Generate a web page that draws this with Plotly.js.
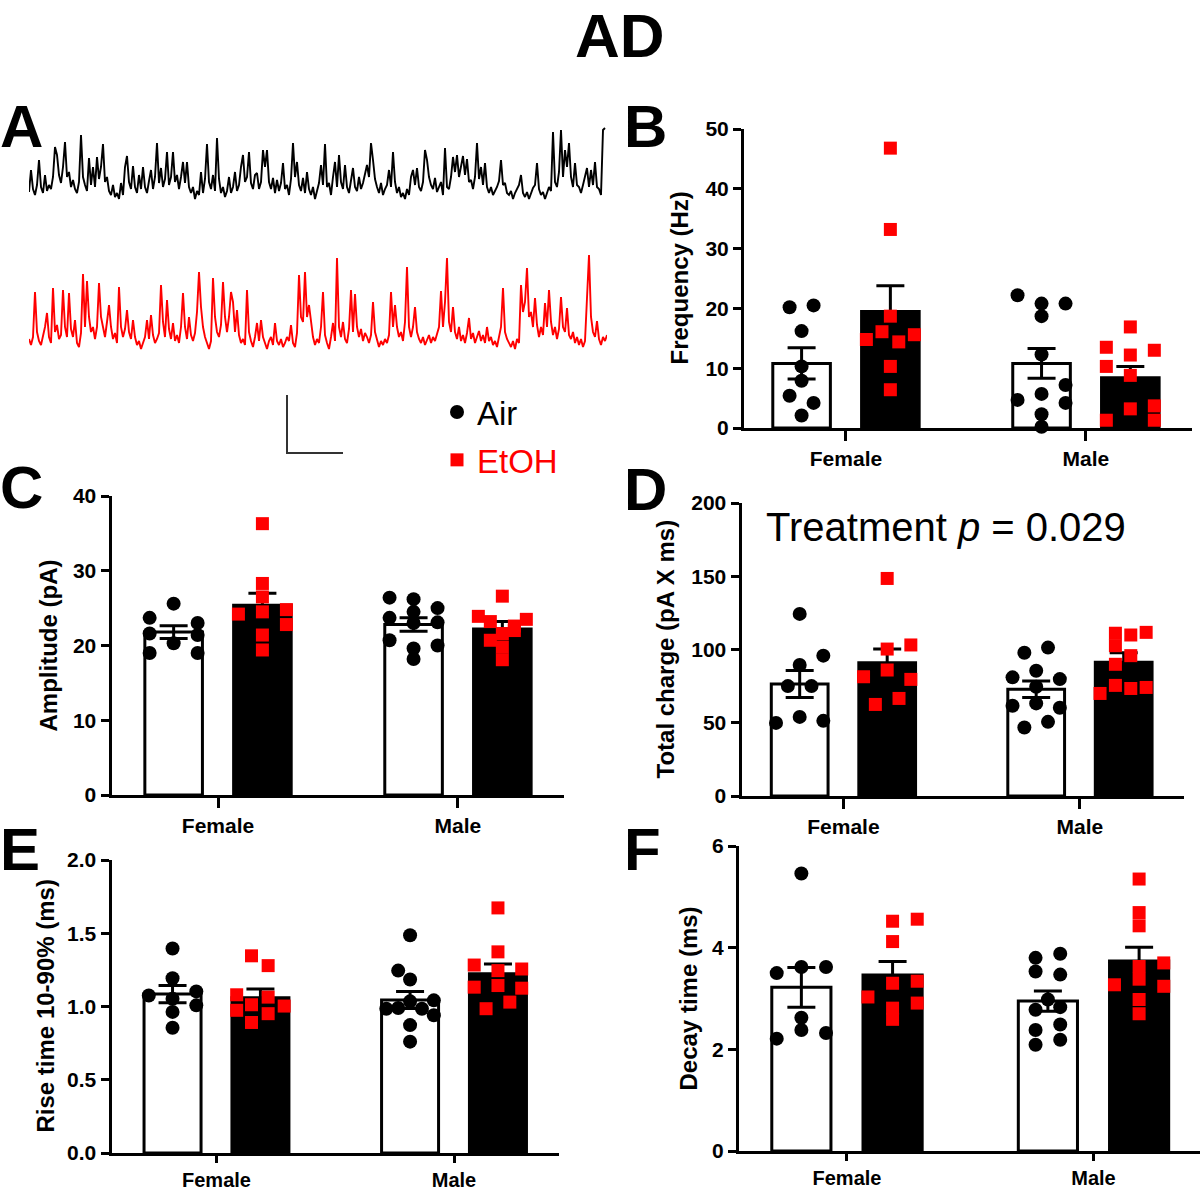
<!DOCTYPE html>
<html>
<head>
<meta charset="utf-8">
<script src="https://cdn.plot.ly/plotly-3.0.1.min.js"></script>
<style>body{margin:0;background:#fff}#chart{width:1200px;height:1192px}</style>
</head>
<body>
<div id="chart"></div>
<script>
// ---------------- DATA ----------------
const categories = ['Female', 'Male'];

// Panel A: example traces (sampled current, baseline = 0, upward deflections)
const airTrace = [
5,27,8,2,12,37,10,4,22,6,
12,8,20,50,42,22,14,30,55,20,
25,10,17,8,4,15,62,20,12,6,
39,12,30,10,40,18,30,53,15,20,
6,2,12,0,4,-2,14,2,30,41,
15,8,31,10,4,22,8,30,10,4,
16,27,8,20,54,14,29,10,18,45,
12,20,45,15,22,8,20,35,14,35,
10,4,10,-2,6,2,25,4,18,53,
15,8,22,6,59,18,4,10,0,6,
20,4,10,25,6,12,30,42,15,20,
45,14,8,22,24,8,15,47,30,47,
15,8,19,4,17,6,14,34,8,12,
2,18,54,20,35,12,6,19,4,25,
8,2,10,-2,6,14,32,12,53,10,
14,2,20,35,10,42,15,8,32,10,
4,18,29,10,6,20,8,14,22,32,
20,54,37,18,10,4,14,2,8,12,
27,10,45,15,4,10,0,4,-2,8,
2,20,27,12,29,10,6,15,47,37,
20,12,8,19,5,10,15,2,49,10,
8,20,40,25,42,20,30,41,22,38,
15,17,8,20,54,18,30,12,34,10,
4,10,2,6,10,16,37,12,14,4,
2,6,-2,4,8,12,22,4,0,5,
-2,4,9,12,34,8,2,5,-2,4,
10,6,65,15,10,25,67,20,47,30,
54,20,10,34,12,10,4,12,20,29,
10,27,12,35,10,8,2,67,69
];
const etohTrace = [
8,2,10,55,15,6,2,12,20,34,
10,4,59,15,22,8,12,57,20,10,
54,18,10,27,4,0,14,73,20,66,
30,15,20,8,20,64,30,20,10,25,
42,20,8,14,4,60,20,10,18,37,
15,8,27,10,2,6,-2,4,10,27,
8,32,12,4,8,14,62,25,10,47,
18,8,24,6,12,4,20,54,20,8,
30,12,6,14,35,75,40,20,10,4,
-2,6,69,30,15,10,22,65,30,15,
30,55,45,15,37,12,4,8,2,57,
15,6,0,10,24,6,27,10,4,-2,
6,10,2,24,6,2,8,0,4,10,
6,22,4,0,14,72,30,25,75,30,
42,25,10,2,8,4,20,55,12,4,
-2,10,24,6,89,20,10,25,8,4,
18,57,15,53,20,10,18,6,14,10,
4,12,45,15,6,0,6,2,8,4,
12,55,20,42,20,10,15,6,25,80,
20,10,20,40,15,8,4,10,2,8,
12,4,10,6,14,20,56,20,45,89,
25,15,40,15,8,20,6,12,4,14,
29,8,14,4,10,16,6,12,4,20,
6,10,2,6,0,12,20,59,15,8,
4,0,6,-2,8,4,62,35,45,79,
30,35,20,49,22,10,20,12,44,20,
57,25,12,20,8,18,50,20,15,39,
12,8,15,4,10,2,8,0,6,49,
92,30,15,10,26,8,2,10,6,12
];
const scaleBarAmp = 58;   // same units as traces
const scaleBarDur = 28;   // samples

// Panel B: Frequency (Hz)
const freqAirMean = [10.8, 10.8];
const freqAirSem  = [2.6, 2.5];
const freqEtohMean = [19.5, 8.4];
const freqEtohSem  = [4.3, 1.9];
const freqAirPts  = [[20.2,20.5,16.2,10.3,7.9,5.4,4.2,2.1],[22.2,20.8,20.8,18.7,12.3,7.2,4.7,5.7,4.2,2.3,0.2]];
const freqAirSlots = [[-1,1,0,0,0,-1,1,0],[-2,0,2,0,0,2,-2,0,2,0,0]];
const freqEtohPts = [[46.8,33.2,18.7,16.1,14.8,14.4,15.6,10.3,6.4],[16.9,13.5,12.2,13.0,10.3,8.8,3.2,3.7,1.3,1.3]];
const freqEtohSlots = [[0,0,0,-0.7,-2,0.7,2,0,0],[0,-2,0,2,-2,0,0,2,-2,2]];

// Panel C: Amplitude (pA)
const ampAirMean = [21.8, 22.8];
const ampAirSem  = [0.85, 0.9];
const ampEtohMean = [25.4, 22.2];
const ampEtohSem  = [1.6, 1.0];
const ampAirPts = [[25.6,23.7,23.0,21.6,21.4,20.3,19.0,19.0],[26.4,26.2,24.5,25.0,23.7,23.1,23.0,20.7,20.0,19.6,18.2]];
const ampAirSlots = [[0,-2,2,-2,2,0,-2,2],[-2,0,0,2,-2,2,0,-2,2,0,0]];
const ampEtohPts = [[36.3,28.3,26.5,24.8,24.2,24.5,22.8,21.4,19.4],[26.6,23.9,23.5,23.2,22.6,21.6,20.7,22.0,19.8,18.1]];
const ampEtohSlots = [[0,0,0,2,-2,0,2,0,0],[0,-2,2,-1,1,0,-1,1,0,0]];

// Panel D: Total charge (pA X ms)
const chargeAirMean = [76.5, 72.9];
const chargeAirSem  = [9.2, 5.6];
const chargeEtohMean = [91.0, 91.3];
const chargeEtohSem  = [9.3, 6.5];
const chargeAirPts = [[124.3,95.8,89.4,75.0,75.0,54.0,49.9,51.3],[101.3,97.8,85.5,81.0,79.8,74.6,61.6,60.2,63.2,46.8,50.6]];
const chargeAirSlots = [[0,2,0,-1,1,0,-2,2],[1,-1,0,-2,2,0,-2,2,0,-1,1]];
const chargeEtohPts = [[148.5,103.1,100.3,86.0,81.4,79.6,66.6,62.5],[111.7,111.1,109.9,102.6,95.8,89.9,75.5,73.4,74.1,70.0]];
const chargeEtohSlots = [[0,2,0,0,-2,2,1,-1],[1.9,-0.7,0.6,-0.7,0.6,-0.7,-0.7,0.6,1.9,-2]];

// Panel E: Rise time 10-90% (ms)
const riseAirMean = [1.085, 1.045];
const riseAirSem  = [0.059, 0.058];
const riseEtohMean = [1.06, 1.224];
const riseEtohSem  = [0.06, 0.066];
const riseAirPts = [[1.396,1.193,1.075,1.103,1.008,0.963,0.855,1.053],[1.486,1.245,1.184,0.985,1.042,1.035,0.99,0.985,0.94,0.873,0.76]];
const riseAirSlots = [[0,0,-2,2,2,0,0,0],[0,-1,0,-2,2,0,-1,1,2,0,0]];
const riseEtohPts = [[1.346,1.279,1.08,1.064,1.012,0.974,1.003,0.951,0.891],[1.673,1.373,1.283,1.256,1.245,1.132,1.143,1.125,1.03,0.985]];
const riseEtohSlots = [[-0.75,0.65,-2,0.65,-0.75,-2,2,0.65,-0.75],[0,0,-2,2,0,-2,0,2,1,-1]];

// Panel F: Decay time (ms)
const decayAirMean = [3.22, 2.95];
const decayAirSem  = [0.39, 0.2];
const decayEtohMean = [3.46, 3.74];
const decayEtohSem  = [0.27, 0.27];
const decayAirPts = [[5.46,3.50,3.62,3.62,2.62,2.38,2.21,2.32],[3.80,3.88,3.53,3.47,2.98,2.78,2.83,2.38,2.49,2.09,2.19]];
const decayAirSlots = [[0,-2,0,2,0,0,-2,2],[-1,1,-1,1,0,-1,1,-1,1,-1,1]];
const decayEtohPts = [[4.52,4.56,4.12,3.30,3.34,3.03,2.91,2.81,2.59],[5.35,4.69,4.43,3.63,3.70,3.27,3.24,3.38,2.98,2.70]];
const decayEtohSlots = [[0,2,0,0,2,-2,2,0,0],[0,0,0,0,2,-2,2,0,0,0]];

// ---------------- LAYOUT / STYLE ----------------
const FONT = 'Arial, "Liberation Sans", Helvetica, sans-serif';
const W = 1200, H = 1192;
const fx = p => p / W;
const fy = p => 1 - p / H;
const BAR_OFFSET = 0.185, BAR_WIDTH = 0.24, SLOT = 0.05;
const RED = '#ff0000';

const panels = [
  {title:'Frequency (Hz)', yMax:50, dtick:10, fmt:'', box:{x:[744,1192], y:[129,428]}, xr:[-0.425,1.442], titleAt:[679,278.5], bottom:false,
   airMean:freqAirMean, airSem:freqAirSem, etohMean:freqEtohMean, etohSem:freqEtohSem,
   airPts:freqAirPts, airSlots:freqAirSlots, etohPts:freqEtohPts, etohSlots:freqEtohSlots},
  {title:'Amplitude (pA)', yMax:40, dtick:10, fmt:'', box:{x:[111.5,564], y:[496,795]}, xr:[-0.444,1.442], titleAt:[48,645.5], bottom:false,
   airMean:ampAirMean, airSem:ampAirSem, etohMean:ampEtohMean, etohSem:ampEtohSem,
   airPts:ampAirPts, airSlots:ampAirSlots, etohPts:ampEtohPts, etohSlots:ampEtohSlots},
  {title:'Total charge (pA X ms)', yMax:200, dtick:50, fmt:'', box:{x:[741.5,1184], y:[503,796]}, xr:[-0.431,1.44], titleAt:[665,649.5], bottom:false,
   airMean:chargeAirMean, airSem:chargeAirSem, etohMean:chargeEtohMean, etohSem:chargeEtohSem,
   airPts:chargeAirPts, airSlots:chargeAirSlots, etohPts:chargeEtohPts, etohSlots:chargeEtohSlots},
  {title:'Rise time 10-90% (ms)', yMax:2, dtick:0.5, fmt:'.1f', box:{x:[111.5,559], y:[860,1153]}, xr:[-0.442,1.442], titleAt:[45,1006.5], bottom:true,
   airMean:riseAirMean, airSem:riseAirSem, etohMean:riseEtohMean, etohSem:riseEtohSem,
   airPts:riseAirPts, airSlots:riseAirSlots, etohPts:riseEtohPts, etohSlots:riseEtohSlots},
  {title:'Decay time (ms)', yMax:6, dtick:2, fmt:'', box:{x:[739,1200], y:[846,1151]}, xr:[-0.438,1.432], titleAt:[688,998.5], bottom:true,
   airMean:decayAirMean, airSem:decayAirSem, etohMean:decayEtohMean, etohSem:decayEtohSem,
   airPts:decayAirPts, airSlots:decayAirSlots, etohPts:decayEtohPts, etohSlots:decayEtohSlots}
];

const traces = [];
const layout = {
  width: W, height: H,
  margin: {l:0, r:0, t:0, b:0},
  paper_bgcolor: '#fff', plot_bgcolor: 'rgba(0,0,0,0)',
  barmode: 'overlay',
  showlegend: true,
  legend: {x: fx(437), y: fy(384), xanchor:'left', yanchor:'top',
           font:{family:FONT, size:33, color:'#000'}, bgcolor:'rgba(0,0,0,0)',
           traceorder:'grouped', tracegroupgap:2},
  font: {family: FONT, color:'#000'},
  annotations: []
};

const tickFont = {family:FONT, size:21, color:'#000', weight:700};
const tickFontBottom = {family:FONT, size:20, color:'#000', weight:700};

panels.forEach((p, i) => {
  const n = i === 0 ? '' : String(i + 1);
  const xa = 'x' + n, ya = 'y' + n;
  layout['xaxis' + n] = {
    domain:[fx(p.box.x[0]), fx(p.box.x[1])], range:p.xr, anchor:ya,
    tickmode:'array', tickvals:categories.map((c,k)=>k), ticktext:categories,
    ticks:'outside', ticklen:p.bottom ? 7 : 10, tickwidth:3, tickcolor:'#000',
    showline:true, linewidth:3, linecolor:'#000',
    showgrid:false, zeroline:false, tickfont:p.bottom ? tickFontBottom : tickFont, fixedrange:true
  };
  layout['yaxis' + n] = {
    domain:[fy(p.box.y[1]), fy(p.box.y[0])], range:[0, p.yMax], anchor:xa,
    dtick:p.dtick, tick0:0, tickformat:p.fmt,
    ticks:'outside', ticklen:8, tickwidth:3, tickcolor:'#000',
    showline:true, linewidth:3, linecolor:'#000',
    showgrid:false, zeroline:false, tickfont:tickFont, fixedrange:true
  };
  layout.annotations.push({text:'<b>' + p.title + '</b>', xref:'paper', yref:'paper',
    x:fx(p.titleAt[0]), y:fy(p.titleAt[1]), xanchor:'center', yanchor:'middle',
    textangle:-90, showarrow:false, font:{family:FONT, size:24, color:'#000'}});

  const err = arr => ({type:'data', array:arr, visible:true, color:'#000', thickness:3, width:14});
  traces.push({type:'bar', x:categories.map((c,k)=>k - BAR_OFFSET), y:p.airMean, width:BAR_WIDTH,
    xaxis:xa, yaxis:ya, marker:{color:'#fff', line:{color:'#000', width:3}},
    error_y:err(p.airSem), showlegend:false, hoverinfo:'skip'});
  traces.push({type:'bar', x:categories.map((c,k)=>k + BAR_OFFSET), y:p.etohMean, width:BAR_WIDTH,
    xaxis:xa, yaxis:ya, marker:{color:'#000', line:{color:'#000', width:3}},
    error_y:err(p.etohSem), showlegend:false, hoverinfo:'skip'});

  const axx = [], axy = [], exx = [], exy = [];
  p.airPts.forEach((vals,k) => vals.forEach((v,j) => { axx.push(k - BAR_OFFSET + p.airSlots[k][j]*SLOT); axy.push(v); }));
  p.etohPts.forEach((vals,k) => vals.forEach((v,j) => { exx.push(k + BAR_OFFSET + p.etohSlots[k][j]*SLOT); exy.push(v); }));
  traces.push({type:'scatter', mode:'markers', x:axx, y:axy, xaxis:xa, yaxis:ya,
    name:'Air', legendgroup:'air', showlegend:i===0, cliponaxis:false,
    marker:{symbol:'circle', size:14, color:'#000'}, hoverinfo:'skip'});
  traces.push({type:'scatter', mode:'markers', x:exx, y:exy, xaxis:xa, yaxis:ya,
    name:'<span style="color:#ff0000">EtOH</span>', legendgroup:'etoh', showlegend:i===0, cliponaxis:false,
    marker:{symbol:'square', size:13, color:RED}, hoverinfo:'skip'});
});

// Panel A axes (hidden)
const hidden = {visible:false, showgrid:false, zeroline:false, fixedrange:true};
layout.xaxis6 = Object.assign({}, hidden, {domain:[fx(29), fx(607)], range:[0, 289], anchor:'y6'});
layout.yaxis6 = Object.assign({}, hidden, {domain:[fy(215), fy(120)], range:[-18, 77], anchor:'x6'});
layout.yaxis7 = Object.assign({}, hidden, {domain:[fy(365), fy(245)], range:[-18, 102], anchor:'x6'});
layout.yaxis8 = Object.assign({}, hidden, {domain:[fy(460), fy(390)], range:[0, 70], anchor:'x6'});

traces.push({type:'scatter', mode:'lines', x:airTrace.map((v,i)=>i), y:airTrace, xaxis:'x6', yaxis:'y6',
  line:{color:'#000', width:1.9}, showlegend:false, hoverinfo:'skip'});
traces.push({type:'scatter', mode:'lines', x:etohTrace.map((v,i)=>i), y:etohTrace, xaxis:'x6', yaxis:'y7',
  line:{color:RED, width:1.9}, showlegend:false, hoverinfo:'skip'});
const SB_X0 = 129, SB_Y0 = 7;
traces.push({type:'scatter', mode:'lines', x:[SB_X0, SB_X0, SB_X0 + scaleBarDur], y:[SB_Y0 + scaleBarAmp, SB_Y0, SB_Y0],
  xaxis:'x6', yaxis:'y8', line:{color:'#333', width:2}, showlegend:false, hoverinfo:'skip', cliponaxis:false});

// Text annotations
const big = s => ({family:FONT, size:s, color:'#000'});
layout.annotations.push(
  {text:'<b>AD</b>', xref:'paper', yref:'paper', x:fx(620), y:1, xanchor:'center', yanchor:'top', borderpad:0, showarrow:false, font:big(62)},
  {text:'<b>A</b>', xref:'paper', yref:'paper', x:fx(-2), y:fy(127), xanchor:'left', yanchor:'middle', showarrow:false, font:big(60)},
  {text:'<b>B</b>', xref:'paper', yref:'paper', x:fx(622), y:fy(127), xanchor:'left', yanchor:'middle', showarrow:false, font:big(60)},
  {text:'<b>C</b>', xref:'paper', yref:'paper', x:fx(-2), y:fy(488), xanchor:'left', yanchor:'middle', showarrow:false, font:big(60)},
  {text:'<b>D</b>', xref:'paper', yref:'paper', x:fx(622), y:fy(489), xanchor:'left', yanchor:'middle', showarrow:false, font:big(60)},
  {text:'<b>E</b>', xref:'paper', yref:'paper', x:fx(-2), y:fy(849), xanchor:'left', yanchor:'middle', showarrow:false, font:big(60)},
  {text:'<b>F</b>', xref:'paper', yref:'paper', x:fx(622), y:fy(849), xanchor:'left', yanchor:'middle', showarrow:false, font:big(60)},
  {text:'Treatment <i>p</i> = 0.029', xref:'paper', yref:'paper', x:fx(946), y:fy(527), xanchor:'center', yanchor:'middle', showarrow:false, font:big(40)}
);

Plotly.newPlot('chart', traces, layout, {staticPlot:true, displayModeBar:false});
</script>
</body>
</html>
